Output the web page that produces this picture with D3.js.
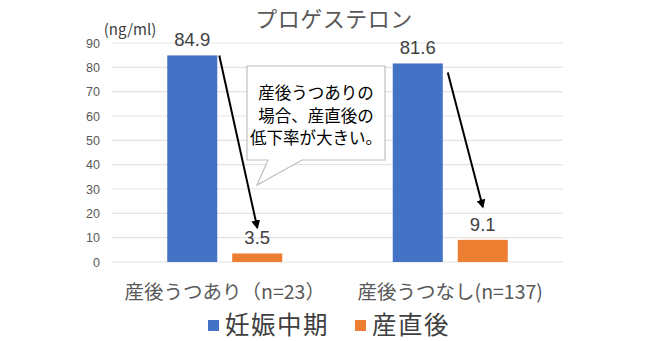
<!DOCTYPE html>
<html><head><meta charset="utf-8">
<script src="https://cdn.jsdelivr.net/npm/d3@7"></script>
<style>
html,body{margin:0;padding:0;background:#fff;}
svg{display:block;font-family:"Noto Sans CJK JP","Noto Sans",sans-serif;}
</style></head>
<body><svg id="c" width="650" height="341"></svg>
<script>
const title = "プロゲステロン";
const unitLabel = "(ng/ml)";
const categories = ["産後うつあり（n=23）", "産後うつなし(n=137)"];
const seriesNames = ["妊娠中期", "産直後"];
const midPregnancy = [84.9, 81.6];
const postpartum = [3.5, 9.1];
const yTicks = [0, 10, 20, 30, 40, 50, 60, 70, 80, 90];
const calloutLines = ["産後うつありの", "場合、産直後の", "低下率が大きい。"];
const colors = ["#4472C4", "#ED7D31"];

(function () {
const svg = d3.select("#c");
const pLeft = 112, pRight = 563, pTop = 43, pBottom = 262;

const y = d3.scaleLinear().domain([0, 90]).range([pBottom, pTop]);
const x0 = d3.scaleBand().domain(categories).range([pLeft, pRight]).paddingInner(0.49).paddingOuter(0.245);
const x1 = d3.scaleBand().domain(seriesNames).range([0, x0.bandwidth()]).paddingInner(0.23);
const color = d3.scaleOrdinal().domain(seriesNames).range(colors);

// gridlines
svg.append("g").selectAll("line").data(yTicks).join("line")
  .attr("x1", pLeft).attr("x2", pRight)
  .attr("y1", d => y(d)).attr("y2", d => y(d))
  .attr("stroke", "#e3e3e3").attr("stroke-width", 1.2);

// y axis labels
const yAxis = d3.axisLeft(y).tickValues(yTicks).tickSize(0).tickPadding(0);
const ga = svg.append("g").attr("transform", `translate(${pLeft - 12},0)`).call(yAxis);
ga.select(".domain").remove();
ga.selectAll("text").attr("fill", "#595959").attr("font-size", 12.5)
  .attr("font-family", '"Liberation Sans","Noto Sans",sans-serif');

// title
svg.append("text").attr("x", 334).attr("y", 26.5).attr("text-anchor", "middle")
  .attr("font-size", 22).attr("letter-spacing", 0.5).attr("fill", "#595959").text(title);
svg.append("text").attr("x", 130).attr("y", 35).attr("text-anchor", "middle")
  .attr("font-size", 15).attr("fill", "#404040").text(unitLabel);

// bars
const rows = categories.map((c, i) => ({ c, vals: [
  { s: seriesNames[0], v: midPregnancy[i] },
  { s: seriesNames[1], v: postpartum[i] }
]}));
const g = svg.append("g").selectAll("g").data(rows).join("g")
  .attr("transform", d => `translate(${x0(d.c)},0)`);
g.selectAll("rect").data(d => d.vals).join("rect")
  .attr("x", d => x1(d.s)).attr("width", x1.bandwidth())
  .attr("y", d => y(d.v)).attr("height", d => y(0) - y(d.v))
  .attr("fill", d => color(d.s));
g.selectAll("text.v").data(d => d.vals).join("text").attr("class", "v")
  .attr("x", d => x1(d.s) + x1.bandwidth() / 2).attr("y", d => y(d.v) - 9)
  .attr("text-anchor", "middle").attr("font-size", 18.5).attr("fill", "#404040")
  .attr("font-family", '"Liberation Sans Narrow","Liberation Sans",sans-serif')
  .text(d => d.v.toFixed(1));

// category labels
svg.append("g").selectAll("text").data(categories).join("text")
  .attr("x", d => x0(d) + x0.bandwidth() / 2).attr("y", 299)
  .attr("text-anchor", "middle").attr("font-size", 19.5).attr("fill", "#595959")
  .text(d => d);

// legend
const legItems = [{ s: seriesNames[0], x: 208 }, { s: seriesNames[1], x: 355 }];
const lg = svg.append("g").selectAll("g").data(legItems).join("g")
  .attr("transform", d => `translate(${d.x},0)`);
lg.append("rect").attr("x", 0).attr("y", 320).attr("width", 11).attr("height", 11)
  .attr("fill", d => color(d.s));
lg.append("text").attr("x", 17).attr("y", 334).attr("font-size", 24.5).attr("fill", "#404040")
  .attr("letter-spacing", 1.5).text(d => d.s);

// arrows
const defs = svg.append("defs");
defs.append("marker").attr("id", "ah").attr("viewBox", "0 0 10 10")
  .attr("refX", 8).attr("refY", 5).attr("markerWidth", 4.5).attr("markerHeight", 4.5)
  .attr("orient", "auto").append("path").attr("d", "M0,0 L10,5 L0,10 z").attr("fill", "#000");
const arrows = [
  { c: categories[0], sx: 2, sy: 0, ey: 26 },
  { c: categories[1], sx: 5, sy: 9, ey: 33 }
];
svg.append("g").selectAll("line").data(arrows).join("line")
  .attr("x1", (d, i) => x0(d.c) + x1(seriesNames[0]) + x1.bandwidth() + d.sx)
  .attr("y1", (d, i) => y(midPregnancy[i]) + d.sy)
  .attr("x2", (d, i) => x0(d.c) + x1(seriesNames[1]) + x1.bandwidth() / 2)
  .attr("y2", (d, i) => y(postpartum[i]) - d.ey)
  .attr("stroke", "#000").attr("stroke-width", 2).attr("marker-end", "url(#ah)");

// callout
svg.append("path")
  .attr("d", "M247,66 L385,66 L385,160 L302,160 L257,185 L268,160 L247,160 Z")
  .attr("fill", "#fff").attr("stroke", "#bfbfbf").attr("stroke-width", 1.2);
svg.append("g").selectAll("text").data(calloutLines).join("text")
  .attr("x", 316).attr("y", (d, i) => 99 + i * 22.5)
  .attr("text-anchor", "middle").attr("font-size", 16.5).attr("fill", "#000")
  .text(d => d);
})();
</script></body></html>
